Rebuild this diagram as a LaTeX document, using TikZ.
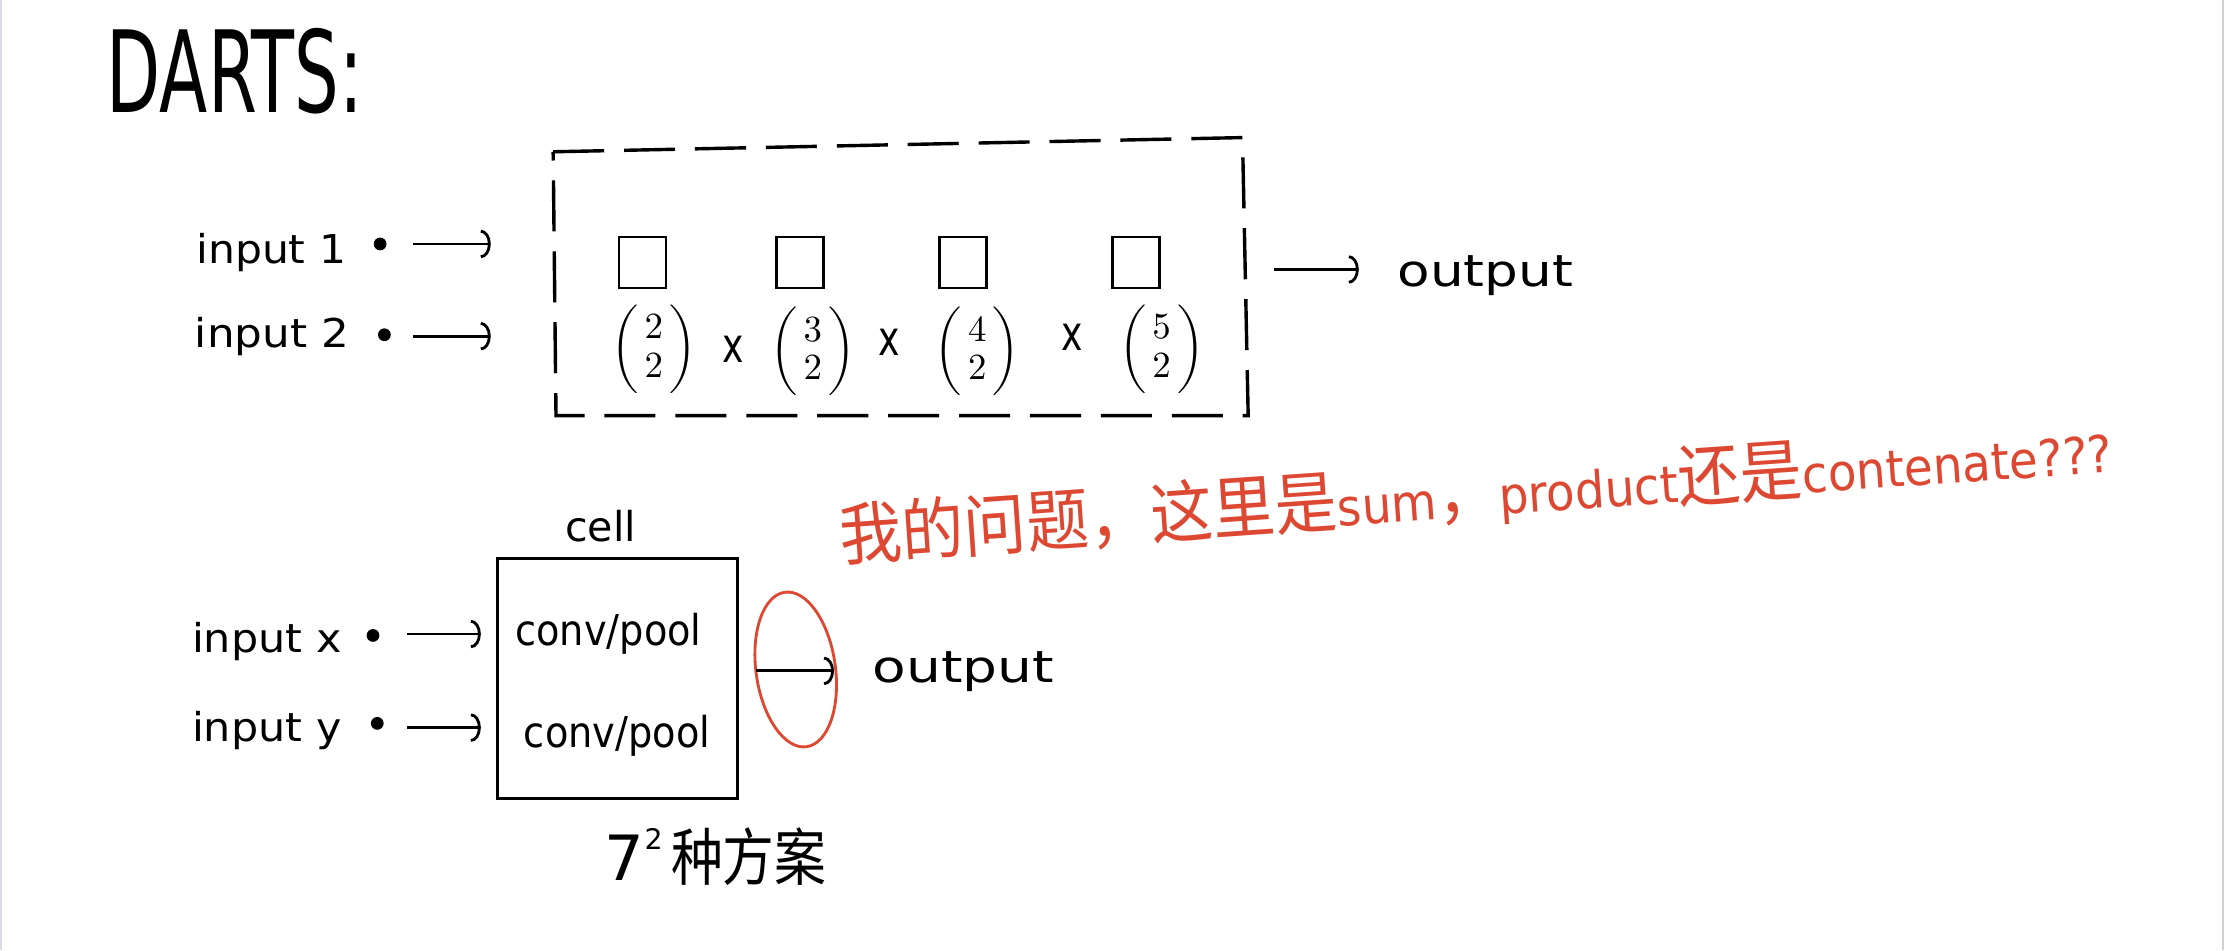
\documentclass[tikz,border=0pt]{standalone}
\usepackage{amsmath}
\usepackage{fontspec}
\setmainfont{DejaVu Sans}
\newfontfamily\cjk{Noto Sans CJK SC}
\usetikzlibrary{arrows.meta}
\definecolor{pen}{RGB}{221,72,50}
\definecolor{edgeL}{RGB}{216,219,228}
\definecolor{edgeR}{RGB}{208,208,208}
\newcommand{\bnm}[2]{\scalebox{1.3}{$\left(\begin{array}{@{\,}c@{\,}}#1\\[-1.5pt]#2\end{array}\right)$}}
\tikzset{
  lbl/.style={inner sep=0pt, anchor=base west},
  dotn/.style={circle, fill=black, inner sep=0pt, minimum size=4.5pt},
  arr/.style={line width=1pt, -{Arc Barb[length=3.5pt,width=10pt,line width=1pt]}},
  sq/.style={draw, line width=0.9pt, inner sep=0pt, minimum width=16.5pt, minimum height=18pt},
  binom/.style={inner sep=0pt},
  times/.style={inner sep=0pt},
  dashbox/.style={line width=1.2pt, dash pattern=on 18pt off 7pt},
  cellbox/.style={draw, line width=0.9pt, inner sep=0pt, minimum width=84.5pt, minimum height=84.5pt, anchor=north west},
  redpen/.style={draw=pen, line width=1pt}
}
\begin{document}
\begin{tikzpicture}[x=0.5pt,y=-0.5pt]
\useasboundingbox (0,0) rectangle (1568,670);
\fill[white] (0,0) rectangle (1568,670);
\fill[edgeL] (0,0) rectangle (1.2,670);
\fill[edgeR] (1566.6,0) rectangle (1568,670);

% title
\node[lbl] (title) at (75,79) {\fontsize{40}{48}\selectfont\scalebox{0.62}[1]{DARTS:}};

% top part: inputs
\node[lbl] (in1) at (138,186) {\fontsize{14}{17}\selectfont\scalebox{1.07}[1]{input 1}};
\node[dotn] (d1) at (268,172) {};
\coordinate (a1s) at (291,172);
\coordinate (a1e) at (346,172);
\draw[arr] (a1s) -- (a1e);

\node[lbl] (in2) at (137,245) {\fontsize{14}{17}\selectfont\scalebox{1.1}[1]{input 2}};
\node[dotn] (d2) at (271,236) {};
\coordinate (a2s) at (291,237);
\coordinate (a2e) at (346,237);
\draw[arr] (a2s) -- (a2e);

% dashed box
\coordinate (bx1) at (390,107);
\coordinate (bx2) at (876,97);
\coordinate (bx3) at (880,293);
\coordinate (bx4) at (392,293);
\draw[dashbox] (bx1) -- (bx2) -- (bx3) -- (bx4) -- cycle;

% squares
\node[sq] (s1) at (453,185) {};
\node[sq] (s2) at (564,185) {};
\node[sq] (s3) at (679,185) {};
\node[sq] (s4) at (801,185) {};

% binomials
\node[binom] (b1) at (461,246) {\bnm{2}{2}};
\node[times] (x1) at (517,246) {\fontsize{17}{20}\selectfont\scalebox{0.75}[1]{x}};
\node[binom] (b2) at (573,248) {\bnm{3}{2}};
\node[times] (x2) at (627,241) {\fontsize{17}{20}\selectfont\scalebox{0.75}[1]{x}};
\node[binom] (b3) at (689,248) {\bnm{4}{2}};
\node[times] (x3) at (756,238) {\fontsize{17}{20}\selectfont\scalebox{0.75}[1]{x}};
\node[binom] (b4) at (819,246) {\bnm{5}{2}};

% output of dashed box
\coordinate (o1s) at (898,190);
\coordinate (o1e) at (958,190);
\draw[arr] (o1s) -- (o1e);
\node[lbl] (out1) at (985,202) {\fontsize{15.5}{18}\selectfont\scalebox{1.21}[1]{output}};

% red question
\node[lbl, text=pen, rotate=4] (q) at (593,395.5) {\scalebox{0.915}[1]{{\cjk\fontsize{24}{28}\selectfont 我的问题，这里是}{\fontsize{18}{22}\selectfont sum}{\cjk\fontsize{24}{28}\selectfont ，}{\fontsize{18}{22}\selectfont product}{\cjk\fontsize{24}{28}\selectfont 还是}{\fontsize{18}{22}\selectfont contenate???}}};

% cell
\node[lbl] (celllbl) at (398,382) {\fontsize{14.5}{17}\selectfont cell};
\node[cellbox] (cell) at (350,393) {};
\node[lbl] (op1) at (363,455) {\fontsize{15}{18}\selectfont\scalebox{0.9}[1]{conv/pool}};
\node[lbl] (op2) at (369,527) {\fontsize{15}{18}\selectfont\scalebox{0.9}[1]{conv/pool}};

\node[lbl] (inx) at (135,460) {\fontsize{14}{17}\selectfont\scalebox{1.08}[1]{input x}};
\node[dotn] (dx) at (263,448) {};
\coordinate (axs) at (287,447);
\coordinate (axe) at (339,447);
\draw[arr] (axs) -- (axe);

\node[lbl] (iny) at (135,523) {\fontsize{14}{17}\selectfont\scalebox{1.08}[1]{input y}};
\node[dotn] (dy) at (266,510) {};
\coordinate (ays) at (287,513);
\coordinate (aye) at (339,513);
\draw[arr] (ays) -- (aye);

% red ellipse and output
\draw[redpen, rotate around={8:(561,472)}] (561,472) ellipse [x radius=28, y radius=55];
\coordinate (o2s) at (533,473);
\coordinate (o2e) at (588,473);
\draw[arr] (o2s) -- (o2e);
\node[lbl] (out2) at (615,481) {\fontsize{15.5}{18}\selectfont\scalebox{1.25}[1]{output}};

% options count
\node[lbl] (opts) at (426,621) {\fontsize{22}{26}\selectfont 7\raisebox{11pt}{\fontsize{10}{12}\selectfont 2}\hspace{3pt}\scalebox{0.83}[1]{\cjk 种方案}};
\end{tikzpicture}
\end{document}
